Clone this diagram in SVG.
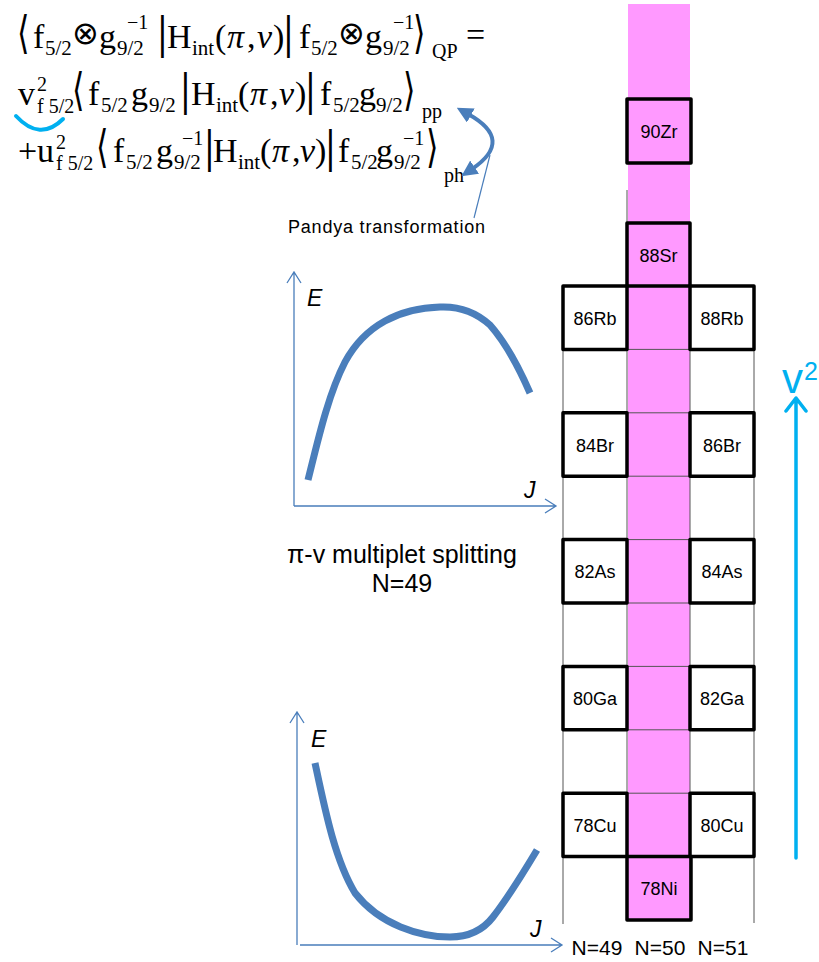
<svg xmlns="http://www.w3.org/2000/svg" width="819" height="962" viewBox="0 0 819 962">
<defs>
<style>
.m{font-family:"Liberation Serif","Times New Roman",serif;font-size:34px;fill:#000}
.s{font-family:"Liberation Serif","Times New Roman",serif;font-size:21px}
.p{font-family:"Liberation Serif","Times New Roman",serif;font-size:20px}
.i{font-style:italic}
.d{font-family:"DejaVu Sans",sans-serif;font-size:32px;fill:#000}
.o{font-family:"DejaVu Sans",sans-serif;font-size:32px;fill:#000}
.box{fill:none;stroke:#000;stroke-width:3.5;stroke-linejoin:round}
.grid{stroke:#555;stroke-width:1;fill:none}
.lbl{font-family:"Liberation Sans",Arial,sans-serif;font-size:18px;fill:#000;text-anchor:middle}
.nl{font-family:"Liberation Sans",Arial,sans-serif;font-size:21px;fill:#000;text-anchor:middle}
.ax{stroke:#4A7EBB;stroke-width:1.3;fill:none}
.cv{stroke:#4A7EBB;stroke-width:7;fill:none}
.ej{font-family:"Liberation Sans",Arial,sans-serif;font-size:23px;font-style:italic;fill:#000}
.cap{font-family:"Liberation Sans",Arial,sans-serif;font-size:25px;fill:#000;text-anchor:middle}
</style>
<marker id="ah" viewBox="0 0 10 10" refX="2" refY="5" markerWidth="4" markerHeight="4" orient="auto-start-reverse" markerUnits="strokeWidth">
<path d="M0,0 L10,5 L0,10 Z" fill="#4A7EBB"/>
</marker>
</defs>

<rect x="628" y="4" width="62" height="916" fill="#FF99FF"/>

<g id="equation">
<!-- line 1 -->
<text class="d" transform="translate(17,48) scale(1,1.4)">⟨</text>
<text class="m"><tspan x="33" y="48">f</tspan><tspan class="s" x="45" y="55">5/2</tspan></text>
<text class="o" x="72" y="44">⊗</text>
<text class="m"><tspan x="99" y="48">g</tspan><tspan class="p" x="127" y="29">−1</tspan><tspan class="s" x="117" y="55">9/2</tspan></text>
<text class="d" transform="translate(157,48) scale(1,1.35)">|</text>
<text class="m"><tspan x="167" y="48">H</tspan><tspan class="s" x="192" y="55">int</tspan><tspan x="215" y="48">(</tspan><tspan class="i" x="227" y="48">π</tspan><tspan x="247" y="48">,</tspan><tspan class="i" x="257" y="48">ν</tspan><tspan x="273" y="48">)</tspan></text>
<text class="d" transform="translate(283,48) scale(1,1.35)">|</text>
<text class="m"><tspan x="299" y="48">f</tspan><tspan class="s" x="311" y="55">5/2</tspan></text>
<text class="o" x="338" y="44">⊗</text>
<text class="m"><tspan x="365" y="48">g</tspan><tspan class="p" x="393" y="29">−1</tspan><tspan class="s" x="383" y="55">9/2</tspan></text>
<text class="d" transform="translate(413,48) scale(1,1.4)">⟩</text>
<text class="m"><tspan class="p" x="432" y="58">QP</tspan><tspan x="466" y="46">=</tspan></text>
<!-- line 2 -->
<text class="m"><tspan x="18" y="105">v</tspan><tspan class="p" x="37" y="91">2</tspan><tspan class="p" x="37" y="113">f 5/2</tspan></text>
<text class="d" transform="translate(72,105) scale(1,1.4)">⟨</text>
<text class="m"><tspan x="88" y="105">f</tspan><tspan class="s" x="101" y="112">5/2</tspan><tspan x="131" y="105">g</tspan><tspan class="s" x="149" y="112">9/2</tspan></text>
<text class="d" transform="translate(180,105) scale(1,1.35)">|</text>
<text class="m"><tspan x="191" y="105">H</tspan><tspan class="s" x="216" y="112">int</tspan><tspan x="238" y="105">(</tspan><tspan class="i" x="250" y="105">π</tspan><tspan x="270" y="105">,</tspan><tspan class="i" x="279" y="105">ν</tspan><tspan x="295" y="105">)</tspan></text>
<text class="d" transform="translate(305,105) scale(1,1.35)">|</text>
<text class="m"><tspan x="320" y="105">f</tspan><tspan class="s" x="333" y="112">5/2</tspan><tspan x="359" y="105">g</tspan><tspan class="s" x="376" y="112">9/2</tspan></text>
<text class="d" transform="translate(403,105) scale(1,1.4)">⟩</text>
<text class="p" x="422" y="118">pp</text>
<!-- line 3 -->
<text class="m"><tspan x="18" y="162">+</tspan><tspan x="37" y="162">u</tspan><tspan class="p" x="56" y="149">2</tspan><tspan class="p" x="56" y="170">f 5/2</tspan></text>
<text class="d" transform="translate(96,162) scale(1,1.4)">⟨</text>
<text class="m"><tspan x="113" y="162">f</tspan><tspan class="s" x="126" y="169">5/2</tspan><tspan x="156" y="162">g</tspan><tspan class="p" x="182" y="145">−1</tspan><tspan class="s" x="174" y="169">9/2</tspan></text>
<text class="d" transform="translate(204,162) scale(1,1.35)">|</text>
<text class="m"><tspan x="213" y="162">H</tspan><tspan class="s" x="238" y="169">int</tspan><tspan x="260" y="162">(</tspan><tspan class="i" x="272" y="162">π</tspan><tspan x="292" y="162">,</tspan><tspan class="i" x="300" y="162">ν</tspan><tspan x="315" y="162">)</tspan></text>
<text class="d" transform="translate(325,162) scale(1,1.35)">|</text>
<text class="m"><tspan x="338" y="162">f</tspan><tspan class="s" x="351" y="169">5/2</tspan><tspan x="376" y="162">g</tspan><tspan class="p" x="403" y="145">−1</tspan><tspan class="s" x="394" y="169">9/2</tspan></text>
<text class="d" transform="translate(426,162) scale(1,1.4)">⟩</text>
<text class="p" x="444" y="182">ph</text>
<!-- cyan highlight -->
<path d="M16,116 Q40,142 63,119" fill="none" stroke="#00B0F0" stroke-width="4" stroke-linecap="round"/>
</g>

<g id="pandya">
<text x="288" y="233" font-family="Liberation Sans, Arial, sans-serif" font-size="18" textLength="197">Pandya transformation</text>
</g>

<g id="grid">
<line class="grid" x1="563" y1="286" x2="563" y2="924"/>
<line class="grid" x1="627" y1="286" x2="627" y2="920"/>
<line class="grid" x1="690" y1="286" x2="690" y2="920"/>
<line class="grid" x1="754" y1="286" x2="754" y2="923"/>
<line class="grid" x1="627" y1="190" x2="627" y2="223"/>
<path class="grid" d="M627,349.4H690M627,412.8H690M627,476.2H690M627,539.6H690M627,603H690M627,666.4H690M627,729.8H690M627,793.2H690M627,856.6H690"/>
</g>

<g id="n90Zr"><rect class="box" x="627" y="99" width="64" height="64"/><text class="lbl" x="659" y="138">90Zr</text></g>
<g id="n88Sr"><rect class="box" x="627" y="223" width="63" height="63"/><text class="lbl" x="658.5" y="261.5">88Sr</text></g>
<g id="n86Rb"><rect class="box" x="563" y="286" width="64" height="63.4"/><text class="lbl" x="595" y="324.7">86Rb</text></g>
<g id="n88Rb"><rect class="box" x="690" y="286" width="64" height="63.4"/><text class="lbl" x="722" y="324.7">88Rb</text></g>
<g id="n84Br"><rect class="box" x="563" y="412.8" width="64" height="63.4"/><text class="lbl" x="595" y="451.5">84Br</text></g>
<g id="n86Br"><rect class="box" x="690" y="412.8" width="64" height="63.4"/><text class="lbl" x="722" y="451.5">86Br</text></g>
<g id="n82As"><rect class="box" x="563" y="539.6" width="64" height="63.4"/><text class="lbl" x="595" y="578.3">82As</text></g>
<g id="n84As"><rect class="box" x="690" y="539.6" width="64" height="63.4"/><text class="lbl" x="722" y="578.3">84As</text></g>
<g id="n80Ga"><rect class="box" x="563" y="666.4" width="64" height="63.4"/><text class="lbl" x="595" y="705.1">80Ga</text></g>
<g id="n82Ga"><rect class="box" x="690" y="666.4" width="64" height="63.4"/><text class="lbl" x="722" y="705.1">82Ga</text></g>
<g id="n78Cu"><rect class="box" x="563" y="793.2" width="64" height="63.4"/><text class="lbl" x="595" y="831.9">78Cu</text></g>
<g id="n80Cu"><rect class="box" x="690" y="793.2" width="64" height="63.4"/><text class="lbl" x="722" y="831.9">80Cu</text></g>
<g id="n78Ni"><rect class="box" x="627" y="856.6" width="64" height="63.4"/><text class="lbl" x="659" y="895.3">78Ni</text></g>

<g id="nlabels">
<text class="nl" x="597" y="955">N=49</text>
<text class="nl" x="660" y="955">N=50</text>
<text class="nl" x="723" y="955">N=51</text>
</g>

<g id="plot1">
<path class="ax" d="M294,506V272M287,283L294,272L301,283M294,506H556M545,499L556,506L545,513"/>
<text class="ej" x="307" y="306">E</text>
<text class="ej" x="524" y="498">J</text>
<path class="cv" d="M308,480 C318,440 328,395 345,362 C365,325 400,308 440,307 C462,306 478,314 490,325 C505,342 520,370 530,393"/>
</g>

<g id="caption">
<text class="cap" x="402" y="563">π-v multiplet splitting</text>
<text class="cap" x="402" y="592">N=49</text>
</g>

<g id="plot2">
<path class="ax" d="M297,945V712M290,723L297,712L304,723M300,945H562M551,938L562,945L551,952"/>
<text class="ej" x="311" y="747">E</text>
<text class="ej" x="530" y="937">J</text>
<path class="cv" d="M315,763 C325,810 335,860 355,893 C380,925 420,937 450,937 C470,937 483,930 493,917 C510,895 525,870 537,850"/>
</g>

<g id="connectors">
<path d="M468,114 Q515,140 472,169" fill="none" stroke="#4A7EBB" stroke-width="4" marker-start="url(#ah)" marker-end="url(#ah)"/>
<line x1="474" y1="218" x2="490" y2="155" stroke="#4A7EBB" stroke-width="1.2"/>
<path d="M796,858V399M786,411L796,398L806,411" fill="none" stroke="#00B0F0" stroke-width="3.5" stroke-linecap="round" stroke-linejoin="round"/>
</g>

<g id="v2label">
<text x="782" y="393" font-family="Liberation Sans, Arial, sans-serif" font-size="42" fill="#00B0F0">v</text>
<text x="804" y="380" font-family="Liberation Sans, Arial, sans-serif" font-size="25" fill="#00B0F0">2</text>
</g>
</svg>
